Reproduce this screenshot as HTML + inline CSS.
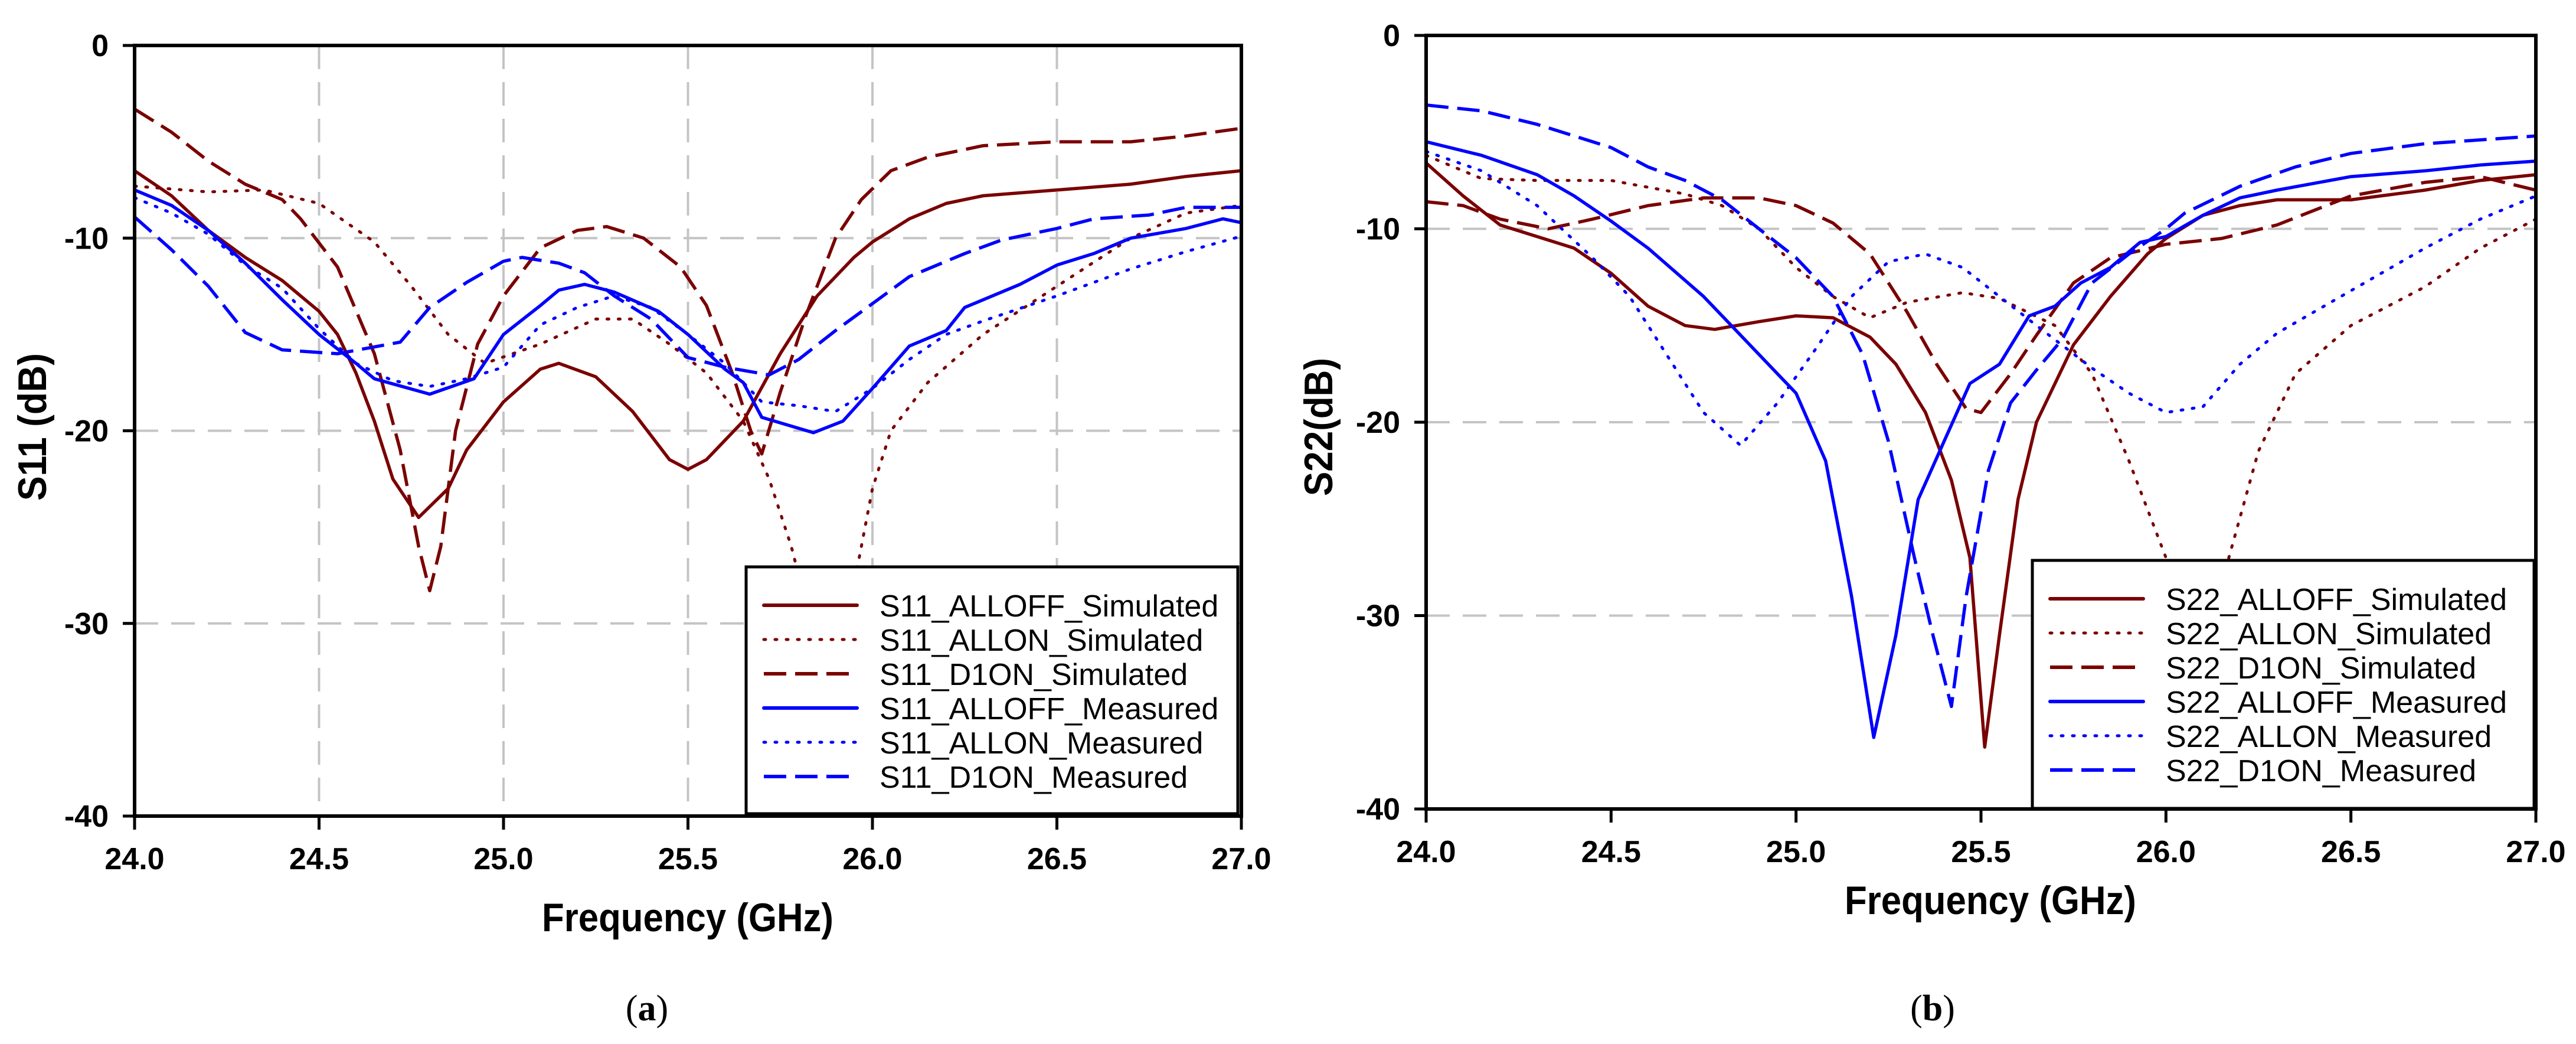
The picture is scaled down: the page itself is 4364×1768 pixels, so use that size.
<!DOCTYPE html>
<html><head><meta charset="utf-8">
<style>
html,body{margin:0;padding:0;background:#fff;}
svg{display:block;}
text{font-family:"Liberation Sans",Arial,sans-serif;}
</style></head>
<body>
<svg id="fig" width="4364" height="1768" viewBox="0 0 4364 1768" xmlns="http://www.w3.org/2000/svg"></svg>
<script>
// ---------- data: panel (a) S11 ----------
const xTicks = [24.0, 24.5, 25.0, 25.5, 26.0, 26.5, 27.0];
const xTickLabels = ["24.0","24.5","25.0","25.5","26.0","26.5","27.0"];
const yTicks = [0, -10, -20, -30, -40];
const yTickLabels = ["0","-10","-20","-30","-40"];

const s11AlloffSimF = [24.0,24.1,24.2,24.3,24.4,24.5,24.55,24.6,24.65,24.7,24.77,24.85,24.9,25.0,25.1,25.15,25.25,25.35,25.45,25.5,25.55,25.65,25.75,25.85,25.95,26.0,26.1,26.2,26.3,26.5,26.7,26.85,27.0];
const s11AlloffSimV = [-6.5,-7.8,-9.6,-11,-12.2,-13.8,-15,-17,-19.5,-22.5,-24.5,-23,-21,-18.5,-16.8,-16.5,-17.2,-19,-21.5,-22,-21.5,-19.5,-16,-13,-11,-10.2,-9,-8.2,-7.8,-7.5,-7.2,-6.8,-6.5];
const s11AllonSimF = [24.0,24.2,24.35,24.5,24.65,24.75,24.85,24.95,25.1,25.25,25.35,25.45,25.55,25.65,25.72,25.78,25.82,25.87,25.92,25.96,26.0,26.05,26.15,26.3,26.5,26.7,26.85,27.0];
const s11AllonSimV = [-7.3,-7.6,-7.5,-8.2,-10.2,-12.5,-15,-16.5,-15.5,-14.2,-14.2,-15.5,-17,-19.5,-22.5,-26,-29,-34,-30,-27,-23,-20,-17.5,-15,-12.5,-10,-8.7,-8.3];
const s11D1onSimF = [24.0,24.1,24.2,24.3,24.4,24.45,24.55,24.65,24.72,24.77,24.8,24.83,24.87,24.93,25.0,25.1,25.2,25.28,25.38,25.48,25.55,25.62,25.67,25.7,25.75,25.82,25.9,25.97,26.05,26.15,26.3,26.5,26.7,26.85,27.0];
const s11D1onSimV = [-3.3,-4.5,-6,-7.2,-8,-9,-11.5,-16,-21,-26,-28.3,-26,-20,-15.5,-13,-10.5,-9.6,-9.4,-10,-11.5,-13.5,-17,-20,-21.2,-18,-14,-10,-8,-6.5,-5.8,-5.2,-5,-5,-4.7,-4.3];
const s11AlloffMeasF = [24.0,24.1,24.2,24.3,24.4,24.5,24.6,24.65,24.8,24.92,25.0,25.1,25.15,25.22,25.3,25.42,25.5,25.6,25.65,25.7,25.84,25.92,26.0,26.1,26.2,26.25,26.4,26.5,26.6,26.7,26.85,26.95,27.0];
const s11AlloffMeasV = [-7.5,-8.3,-9.6,-11.3,-13.2,-15,-16.5,-17.3,-18.1,-17.3,-15,-13.5,-12.7,-12.4,-12.8,-13.8,-15,-16.8,-17.5,-19.3,-20.1,-19.5,-17.8,-15.6,-14.8,-13.6,-12.4,-11.4,-10.8,-10,-9.5,-9,-9.2];
const s11AllonMeasF = [24.0,24.1,24.2,24.3,24.4,24.5,24.6,24.7,24.8,24.9,25.0,25.1,25.2,25.3,25.4,25.5,25.6,25.7,25.8,25.9,26.0,26.1,26.2,26.3,26.5,26.7,26.85,27.0];
const s11AllonMeasV = [-7.9,-8.7,-9.8,-11.4,-12.6,-14.7,-16.5,-17.4,-17.7,-17.3,-16.7,-14.5,-13.6,-13,-13.6,-15,-16.5,-18.5,-18.7,-19,-17.8,-16.3,-15,-14.3,-13,-11.6,-10.7,-9.9];
const s11D1onMeasF = [24.0,24.1,24.2,24.3,24.4,24.55,24.72,24.8,24.9,25.0,25.05,25.15,25.22,25.3,25.4,25.5,25.6,25.72,25.8,25.9,26.0,26.1,26.25,26.35,26.5,26.6,26.75,26.85,27.0];
const s11D1onMeasV = [-8.9,-10.6,-12.5,-14.9,-15.8,-16,-15.4,-13.6,-12.3,-11.2,-11,-11.3,-11.8,-13,-14.2,-16.2,-16.7,-17.1,-16.3,-14.8,-13.4,-12,-10.8,-10.1,-9.5,-9,-8.8,-8.4,-8.4];

// ---------- data: panel (b) S22 ----------
const s22AlloffSimF = [24.0,24.1,24.2,24.3,24.4,24.5,24.6,24.7,24.78,24.9,25.0,25.1,25.2,25.27,25.35,25.42,25.47,25.51,25.55,25.6,25.65,25.75,25.85,25.95,26.0,26.1,26.2,26.3,26.5,26.7,26.85,27.0];
const s22AlloffSimV = [-6.6,-8.3,-9.8,-10.4,-11,-12.3,-14,-15,-15.2,-14.8,-14.5,-14.6,-15.6,-17,-19.5,-23,-27,-36.8,-31,-24,-20,-16,-13.5,-11.3,-10.5,-9.3,-8.8,-8.5,-8.5,-8,-7.5,-7.2];
const s22AllonSimF = [24.0,24.15,24.3,24.5,24.7,24.8,24.9,25.0,25.1,25.2,25.3,25.45,25.55,25.7,25.8,25.9,26.0,26.05,26.1,26.17,26.25,26.35,26.5,26.7,26.85,27.0];
const s22AllonSimV = [-6.2,-7.4,-7.5,-7.5,-8.2,-8.8,-10,-12,-13.5,-14.6,-13.8,-13.3,-13.6,-15,-17.5,-22,-27,-30,-34,-27,-21.5,-17.5,-15,-13,-11,-9.5];
const s22D1onSimF = [24.0,24.1,24.2,24.33,24.45,24.6,24.75,24.9,25.0,25.1,25.2,25.3,25.38,25.46,25.5,25.58,25.65,25.75,25.85,26.0,26.15,26.3,26.5,26.7,26.85,27.0];
const s22D1onSimV = [-8.6,-8.8,-9.5,-10,-9.5,-8.8,-8.4,-8.4,-8.8,-9.7,-11.3,-14.3,-17,-19.3,-19.5,-17.5,-15.5,-12.8,-11.5,-10.8,-10.5,-9.8,-8.3,-7.6,-7.3,-8];
const s22AlloffMeasF = [24.0,24.15,24.3,24.4,24.5,24.6,24.75,24.85,24.95,25.0,25.08,25.15,25.21,25.27,25.33,25.4,25.47,25.55,25.63,25.7,25.77,25.85,25.93,26.0,26.1,26.2,26.3,26.5,26.7,26.85,27.0];
const s22AlloffMeasV = [-5.5,-6.2,-7.2,-8.3,-9.6,-11,-13.5,-15.5,-17.5,-18.5,-22,-29,-36.3,-31,-24,-21,-18,-17,-14.5,-14,-12.8,-12,-10.7,-10.4,-9.3,-8.4,-8,-7.3,-7,-6.7,-6.5];
const s22AllonMeasF = [24.0,24.15,24.3,24.45,24.55,24.65,24.75,24.85,24.95,25.05,25.15,25.25,25.35,25.45,25.55,25.65,25.8,25.9,26.0,26.1,26.2,26.3,26.5,26.7,26.85,27.0];
const s22AllonMeasV = [-6,-7,-8.8,-11.5,-13.5,-16.5,-19.5,-21.2,-19,-16.3,-13.5,-11.7,-11.3,-12,-13.5,-15,-17.2,-18.5,-19.5,-19.2,-17,-15.4,-13.2,-11,-9.5,-8.3];
const s22D1onMeasF = [24.0,24.15,24.3,24.5,24.6,24.7,24.8,24.9,25.0,25.1,25.18,25.25,25.32,25.37,25.42,25.46,25.52,25.58,25.65,25.72,25.8,25.9,26.0,26.05,26.2,26.35,26.5,26.7,26.85,27.0];
const s22D1onMeasV = [-3.6,-3.9,-4.6,-5.8,-6.8,-7.5,-8.5,-10,-11.5,-13.5,-16.5,-21,-27,-31,-34.7,-29,-22.5,-19,-17.3,-15.7,-12.8,-11.3,-10,-9.2,-7.8,-6.8,-6.1,-5.6,-5.4,-5.2];

const RED = "#7a0000", BLUE = "#0000ff";
const NS = "http://www.w3.org/2000/svg";
const svg = document.getElementById("fig");
function mk(tag, attrs, parent){ const e=document.createElementNS(NS,tag); for(const k in attrs) e.setAttribute(k,attrs[k]); (parent||svg).appendChild(e); return e; }

const styles = {
  solid:{dash:"", cap:"round"},
  dotted:{dash:"3 16", cap:"round"},
  dashed:{dash:"38 15", cap:"butt"}
};

function panel(cfg){
  const g = mk("g",{});
  
  
  const L=cfg.x0, R=cfg.x1, T=cfg.y0, B=cfg.y1;
  const sx = f => L + (f-24)/(27-24)*(R-L);
  const sy = v => T + (0-v)/40*(B-T);
  if(cfg.vgrid){
    xTicks.slice(1,-1).forEach(t=>{
      const l=mk("line",{x1:sx(t),x2:sx(t),y1:T,y2:B,stroke:"#c4c4c4","stroke-width":4,"stroke-dasharray":"40 22"},g);
      
      
    });
  }
  yTicks.slice(1,-1).forEach(t=>{
    const l=mk("line",{x1:L,x2:R,y1:sy(t),y2:sy(t),stroke:"#c4c4c4","stroke-width":4,"stroke-dasharray":"40 22"},g);
    
    
  });
  const cid = cfg.name+"-clip";
  const cp = mk("clipPath",{id:cid},g);
  mk("rect",{x:L,y:T,width:R-L,height:B-T},cp);
  const sg = mk("g",{"clip-path":"url(#"+cid+")"},g);
  cfg.series.forEach(s=>{
    const d = s.f.map((f,i)=>(i?"L":"M")+sx(f).toFixed(1)+","+sy(s.v[i]).toFixed(1)).join(" ");
    const st = styles[s.style];
    const p = mk("path",{d:d,fill:"none",stroke:s.color,"stroke-width":s.style==="dotted"?5:5.5,"stroke-linejoin":"round","stroke-linecap":st.cap},sg);
    if(st.dash) p.setAttribute("stroke-dasharray",st.dash);
    
    
  });
  const fr = mk("rect",{x:L,y:T,width:R-L,height:B-T,fill:"none",stroke:"#000","stroke-width":6},g);
  
  
  xTicks.forEach((t,i)=>{
    mk("line",{x1:sx(t),x2:sx(t),y1:B,y2:B+23,stroke:"#000","stroke-width":5},g);
    const tx=mk("text",{x:sx(t),y:B+90,"text-anchor":"middle","font-size":52,"font-weight":"bold",fill:"#000"},g);
    tx.textContent = xTickLabels[i];
    
    
  });
  yTicks.forEach((t,i)=>{
    mk("line",{x1:L-20,x2:L,y1:sy(t),y2:sy(t),stroke:"#000","stroke-width":5},g);
    const tx=mk("text",{x:L-44,y:sy(t)+18,"text-anchor":"end","font-size":52,"font-weight":"bold",fill:"#000"},g);
    tx.textContent = yTickLabels[i];
    
    
  });
  const xt = mk("text",{x:cfg.xtX,y:cfg.xtY,"text-anchor":"middle","font-size":68,"font-weight":"bold",textLength:494,lengthAdjust:"spacingAndGlyphs"},g);
  xt.textContent="Frequency (GHz)";
  
  
  const yt = mk("text",{x:0,y:0,"text-anchor":"middle","font-size":68,"font-weight":"bold",textLength:cfg.ytLen,lengthAdjust:"spacingAndGlyphs",transform:"translate("+cfg.ytX+","+cfg.ytY+") rotate(-90)"},g);
  yt.textContent=cfg.ytitle;
  
  
  const lg = mk("g",{},g);
  
  
  mk("rect",{x:cfg.lx0,y:cfg.ly0,width:cfg.lx1-cfg.lx0,height:cfg.ly1-cfg.ly0,fill:"#fff",stroke:"#000","stroke-width":5},lg);
  cfg.series.forEach((s,i)=>{
    const y = cfg.ly0+65+i*58;
    const e = mk("g",{},lg);
    
    
    const st = styles[s.style];
    const ln = mk("line",{x1:cfg.lx0+30,x2:cfg.lx0+188,y1:y,y2:y,stroke:s.color,"stroke-width":s.style==="dotted"?5:6,"stroke-linecap":st.cap},e);
    if(st.dash) ln.setAttribute("stroke-dasharray", st.dash);
    const tx = mk("text",{x:cfg.lx0+226,y:y+19,"font-size":52,fill:"#000"},e);
    tx.textContent = s.label;
  });
  const cap = mk("text",{x:cfg.capX,y:cfg.capY,"text-anchor":"middle","font-size":62,style:"font-family:'Liberation Serif',serif"},g);
  cap.innerHTML = cfg.cap;
  
  
}

panel({name:"s11-panel", x0:228, x1:2103, y0:77, y1:1382, vgrid:true,
  xtX:1165, xtY:1577, ytX:78, ytY:723, ytLen:250, ytitle:"S11 (dB)",
  lx0:1264, lx1:2097, ly0:960, ly1:1378, capX:1096, capY:1728, cap:"(<tspan font-weight='bold'>a</tspan>)",
  series:[
    {id:"s11-alloff-simulated",label:"S11_ALLOFF_Simulated",f:s11AlloffSimF,v:s11AlloffSimV,color:RED,style:"solid"},
    {id:"s11-allon-simulated",label:"S11_ALLON_Simulated",f:s11AllonSimF,v:s11AllonSimV,color:RED,style:"dotted"},
    {id:"s11-d1on-simulated",label:"S11_D1ON_Simulated",f:s11D1onSimF,v:s11D1onSimV,color:RED,style:"dashed"},
    {id:"s11-alloff-measured",label:"S11_ALLOFF_Measured",f:s11AlloffMeasF,v:s11AlloffMeasV,color:BLUE,style:"solid"},
    {id:"s11-allon-measured",label:"S11_ALLON_Measured",f:s11AllonMeasF,v:s11AllonMeasV,color:BLUE,style:"dotted"},
    {id:"s11-d1on-measured",label:"S11_D1ON_Measured",f:s11D1onMeasF,v:s11D1onMeasV,color:BLUE,style:"dashed"}
  ]});

panel({name:"s22-panel", x0:2416, x1:4296, y0:60, y1:1370, vgrid:false,
  xtX:3372, xtY:1548, ytX:2257, ytY:723, ytLen:234, ytitle:"S22(dB)",
  lx0:3443, lx1:4293, ly0:949, ly1:1369, capX:3274, capY:1728, cap:"(<tspan font-weight='bold'>b</tspan>)",
  series:[
    {id:"s22-alloff-simulated",label:"S22_ALLOFF_Simulated",f:s22AlloffSimF,v:s22AlloffSimV,color:RED,style:"solid"},
    {id:"s22-allon-simulated",label:"S22_ALLON_Simulated",f:s22AllonSimF,v:s22AllonSimV,color:RED,style:"dotted"},
    {id:"s22-d1on-simulated",label:"S22_D1ON_Simulated",f:s22D1onSimF,v:s22D1onSimV,color:RED,style:"dashed"},
    {id:"s22-alloff-measured",label:"S22_ALLOFF_Measured",f:s22AlloffMeasF,v:s22AlloffMeasV,color:BLUE,style:"solid"},
    {id:"s22-allon-measured",label:"S22_ALLON_Measured",f:s22AllonMeasF,v:s22AllonMeasV,color:BLUE,style:"dotted"},
    {id:"s22-d1on-measured",label:"S22_D1ON_Measured",f:s22D1onMeasF,v:s22D1onMeasV,color:BLUE,style:"dashed"}
  ]});
</script>
</body></html>
